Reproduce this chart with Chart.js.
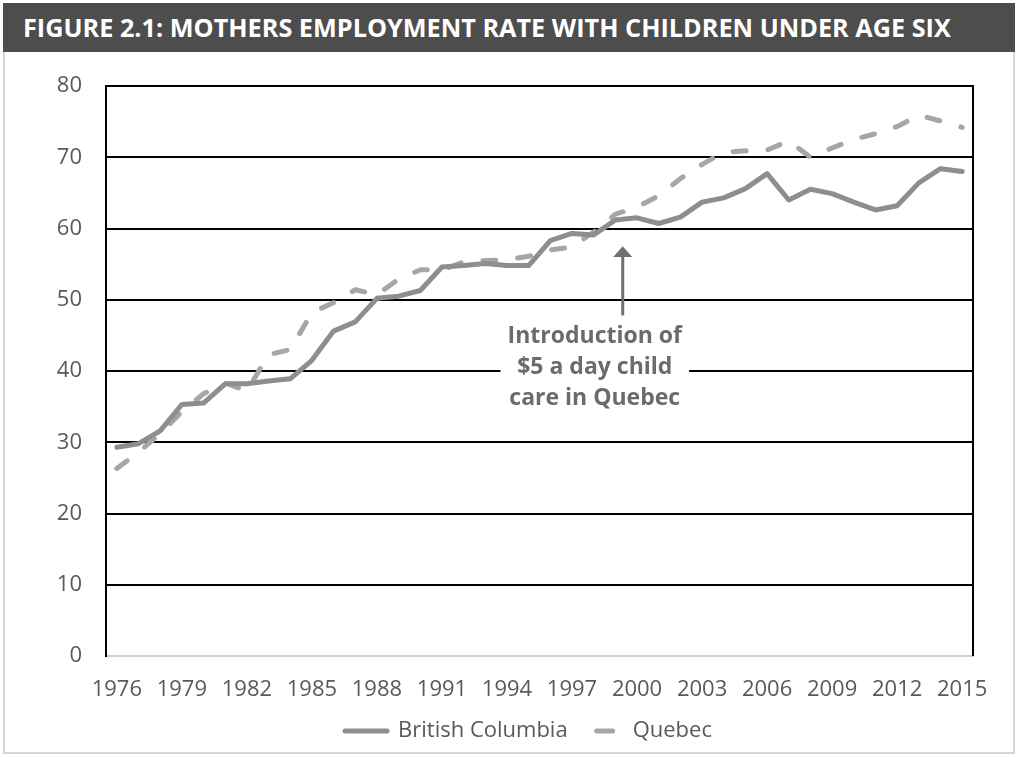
<!DOCTYPE html>
<html lang="en">
  <head>
    <meta charset="UTF-8" />
    <title>Figure 2.1</title>
    <script src="https://cdn.jsdelivr.net/npm/chart.js"></script>
    <style>
      body { margin: 0; background: #fff; }
      .wrap { position: relative; width: 1018px; height: 757px; }
      .title {
        position: absolute; left: 3px; top: 3px; width: 1012px; height: 49px;
        background: #4d4d4d; overflow: hidden;
      }
      .title span {
        position: absolute; left: 20px; top: 7px; white-space: nowrap;
        font-family: "Open Sans"; font-weight: 700; font-size: 25px; color: #fff;
        transform-origin: 0 0;
      }
      .frame {
        position: absolute; left: 3px; top: 52px; width: 1008px; height: 700px;
        border: 2px solid #d6d6d6; border-top: none;
      }
      canvas { position: absolute; left: 0; top: 0; }
    </style>
  </head>
  <body>
    <div class="wrap">
      <div class="title"><span id="ttl">FIGURE 2.1: MOTHERS EMPLOYMENT RATE WITH CHILDREN UNDER AGE SIX</span></div>
      <div class="frame"></div>
      <canvas id="myChart" width="1018" height="757"></canvas>
    </div>

    <script>
      // squeeze the title to the width it has in the figure
      const ttl = document.getElementById("ttl");
      ttl.style.transform = "scaleX(" + (928 / ttl.offsetWidth) + ")";

      const years = [
        "1976", "1977", "1978", "1979", "1980", "1981", "1982", "1983", "1984", "1985",
        "1986", "1987", "1988", "1989", "1990", "1991", "1992", "1993", "1994", "1995",
        "1996", "1997", "1998", "1999", "2000", "2001", "2002", "2003", "2004", "2005",
        "2006", "2007", "2008", "2009", "2010", "2011", "2012", "2013", "2014", "2015",
      ];
      const shownYears = [
        "1976", "1979", "1982", "1985", "1988", "1991", "1994",
        "1997", "2000", "2003", "2006", "2009", "2012", "2015",
      ];
      const britishColumbia = [
        29.3, 29.8, 31.6, 35.3, 35.5, 38.2, 38.2, 38.6, 38.9, 41.5,
        45.6, 46.9, 50.2, 50.5, 51.3, 54.6, 54.8, 55.1, 54.8, 54.8,
        58.3, 59.3, 59.1, 61.2, 61.5, 60.7, 61.6, 63.7, 64.3, 65.6,
        67.7, 64.0, 65.5, 64.9, 63.7, 62.6, 63.2, 66.4, 68.4, 68.0,
      ];
      const quebec = [
        26.3, 28.6, 31.2, 34.3, 36.8, 38.3, 37.2, 42.3, 43.0, 48.2,
        49.6, 51.4, 50.7, 52.9, 54.2, 54.2, 55.3, 55.5, 55.6, 56.1,
        57.0, 57.4, 59.5, 62.0, 63.0, 64.6, 67.0, 69.0, 70.7, 70.9,
        71.0, 72.3, 70.0, 71.3, 72.5, 73.3, 74.3, 75.9, 75.1, 74.2,
      ];
      const yTicks = [0, 10, 20, 30, 40, 50, 60, 70, 80];
      const noteLines = ["Introduction of", "$5 a day child", "care in Quebec"];

      const textGrey = "#595959";

      // right edge of the plot box + the "$5 a day" note with its arrow
      const notePlugin = {
        id: "note",
        afterLayout(chart) {
          // legend sits a little right of the canvas centre in the figure
          chart.legend.left += 42;
          chart.legend.right += 42;
        },
        beforeDatasetsDraw(chart) {
          const { ctx, chartArea } = chart;
          ctx.save();
          ctx.strokeStyle = "#000";
          ctx.lineWidth = 2;
          ctx.beginPath();
          ctx.moveTo(chartArea.right, chartArea.top - 1);
          ctx.lineTo(chartArea.right, chartArea.bottom);
          ctx.stroke();
          ctx.restore();
        },
        afterDatasetsDraw(chart) {
          const { ctx } = chart;
          const x = chart.scales.x;
          const y = chart.scales.y;
          ctx.save();

          // blank out the gridline behind the text
          const bx1 = x.getPixelForValue(17.7);
          const bx2 = x.getPixelForValue(26.4);
          const by1 = y.getPixelForValue(47.1);
          const by2 = y.getPixelForValue(33.3);
          ctx.fillStyle = "#fff";
          ctx.fillRect(bx1, by1, bx2 - bx1, by2 - by1);

          ctx.fillStyle = "#6b6b6b";
          ctx.font = "bold 23px 'Open Sans'";
          ctx.textAlign = "center";
          ctx.textBaseline = "alphabetic";
          const tx = x.getPixelForValue(22.05);
          const baseVals = [44.0, 39.6, 35.2];
          noteLines.forEach((line, i) => {
            ctx.fillText(line, tx, y.getPixelForValue(baseVals[i]));
          });

          const ax = x.getPixelForValue(23.34);
          const tip = y.getPixelForValue(57.5);
          const headBase = y.getPixelForValue(56.0);
          const tail = y.getPixelForValue(47.8);
          ctx.strokeStyle = "#707070";
          ctx.lineWidth = 3;
          ctx.beginPath();
          ctx.moveTo(ax, tail);
          ctx.lineTo(ax, headBase);
          ctx.stroke();
          ctx.fillStyle = "#707070";
          ctx.beginPath();
          ctx.moveTo(ax, tip);
          ctx.lineTo(ax - 9.5, headBase);
          ctx.lineTo(ax + 9.5, headBase);
          ctx.closePath();
          ctx.fill();
          ctx.restore();
        },
      };

      const config = {
        type: "line",
        data: {
          labels: years,
          datasets: [
            {
              label: "British Columbia",
              data: britishColumbia,
              borderColor: "#8e8e8e",
              backgroundColor: "#8e8e8e",
              borderWidth: 5,
              borderCapStyle: "round",
              borderJoinStyle: "round",
              pointRadius: 0,
              tension: 0,
            },
            {
              label: "Quebec",
              data: quebec,
              borderColor: "#a6a6a6",
              backgroundColor: "#a6a6a6",
              borderWidth: 5,
              borderDash: [13, 22],
              borderCapStyle: "round",
              borderJoinStyle: "round",
              pointRadius: 0,
              tension: 0,
            },
          ],
        },
        options: {
          responsive: false,
          animation: false,
          layout: { padding: { left: 0, right: 45, top: 86, bottom: 5 } },
          plugins: {
            tooltip: { enabled: false },
            legend: {
              position: "bottom",
              labels: {
                color: textGrey,
                font: { family: "Open Sans", size: 22 },
                usePointStyle: true,
                pointStyle: "line",
                pointStyleWidth: 42,
                padding: 12,
                generateLabels(chart) {
                  const items = Chart.defaults.plugins.legend.labels.generateLabels(chart);
                  items.forEach((it) => {
                    it.lineCap = "round";
                    if (it.text === "Quebec") {
                      it.lineDash = [16, 100];
                      it.lineDashOffset = -17;
                    }
                  });
                  return items;
                },
              },
            },
          },
          scales: {
            x: {
              offset: true,
              grid: { display: false },
              border: { color: "#d0d0d0", width: 2 },
              afterFit(scale) { scale.height = 52; },
              ticks: {
                autoSkip: false,
                maxRotation: 0,
                padding: 13,
                color: textGrey,
                font: { family: "Open Sans", size: 22 },
                callback(value, index) {
                  const lab = years[index];
                  return shownYears.includes(lab) ? lab : "";
                },
              },
            },
            y: {
              min: 0,
              max: 80,
              afterFit(scale) { scale.width = 106; },
              afterBuildTicks(scale) {
                scale.ticks = yTicks.map((v) => ({ value: v }));
              },
              border: { color: "#000", width: 2 },
              grid: {
                color: (c) => (c.tick && c.tick.value === 0 ? "#d0d0d0" : "#000"),
                lineWidth: 2,
                drawTicks: false,
              },
              ticks: {
                padding: 24,
                color: textGrey,
                font: { family: "Open Sans", size: 22 },
              },
            },
          },
        },
        plugins: [notePlugin],
      };

      new Chart(document.getElementById("myChart"), config);
    </script>
  </body>
</html>
